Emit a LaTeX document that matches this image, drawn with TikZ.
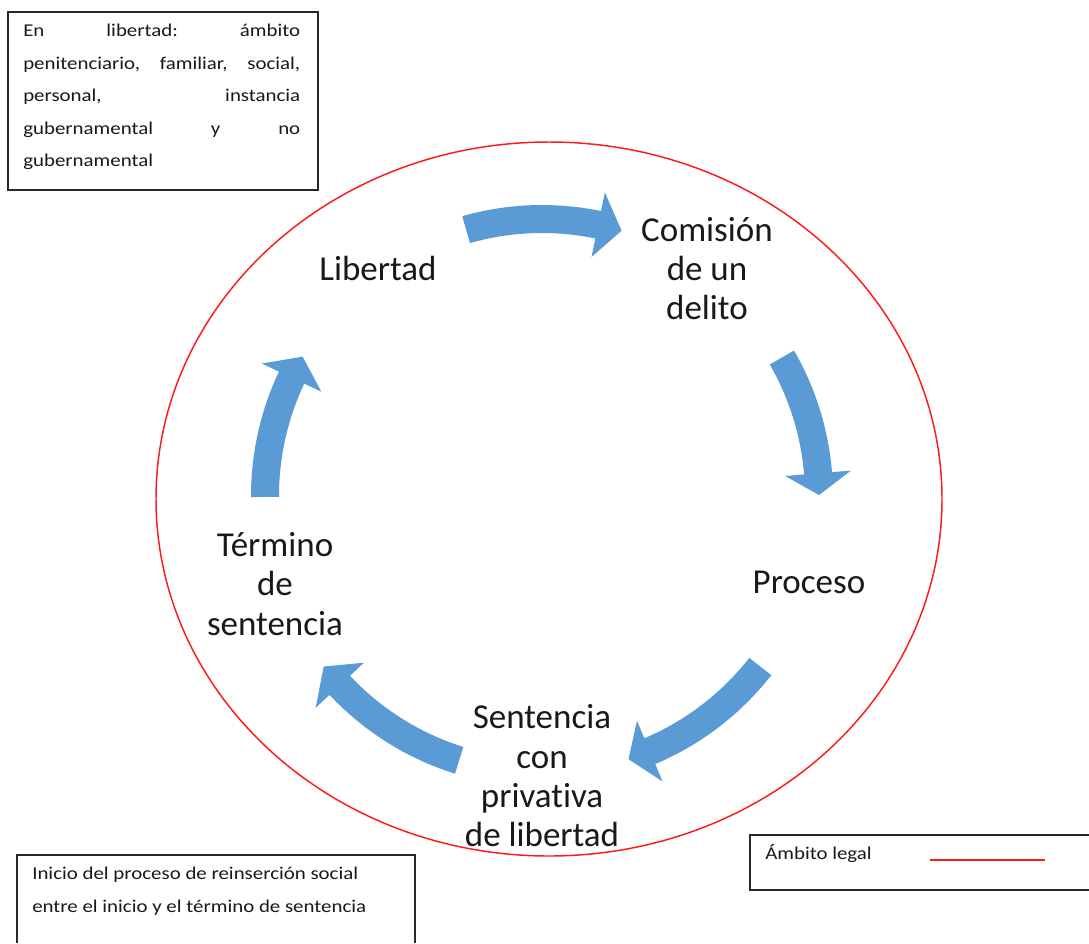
\documentclass[tikz,border=0pt]{standalone}
\usepackage{fontspec}
\setmainfont{Carlito}[Ligatures=NoCommon]
\newfontfamily\boxfont[FakeStretch=1.16,Ligatures=NoCommon]{Carlito}
\definecolor{arrowblue}{HTML}{5B9BD5}
\definecolor{legalred}{HTML}{FF1A1A}
\tikzset{
  lbl/.style={align=center, font=\fontsize{26.25}{29.5}\selectfont, text=black!90, inner sep=0pt},
  boxtxt/.style={anchor=base west, inner sep=0pt, font=\boxfont\fontsize{13.5}{16}\selectfont, text=black!90},
  frame/.style={draw=black!85, line width=1.3pt},
  arrowfill/.style={fill=arrowblue, draw=none},
  legalline/.style={draw=legalred, line width=1.1pt},
}
% curved cycle arrow: tail angle, head-base angle, tip angle (centre (542,-496), radius 277)
\newcommand{\cycarrow}[3]{%
  \fill[arrowfill] plot[domain=#1:#2, samples=30] ({542+263*cos(\x)},{-496+263*sin(\x)})
    -- ({542+244*cos(#2)},{-496+244*sin(#2)})
    -- ({542+277*cos(#3)},{-496+277*sin(#3)})
    -- ({542+310*cos(#2)},{-496+310*sin(#2)})
    -- plot[domain=#2:#1, samples=30] ({542+291*cos(\x)},{-496+291*sin(\x)})
    -- cycle;}
\begin{document}
\begin{tikzpicture}[x=0.75pt, y=0.75pt]
\useasboundingbox[fill=white] (0,0) rectangle (1089,-943);

% legal scope ellipse
\draw[legalline] (549,-499) ellipse [x radius=294.75pt, y radius=267.75pt];

% cycle arrows
\cycarrow{105.9}{78.3}{73.3}
\cycarrow{30}{4.7}{0.2}
\cycarrow{-38}{-67.1}{-71.8}
\cycarrow{252.6}{223.1}{218}
\cycarrow{180.2}{154.7}{149.8}

% cycle labels
\node[lbl] (libertad) at (378,-268) {Libertad};
\node[lbl] (comision) at (707,-268.5) {Comisión\\de un\\delito};
\node[lbl] (proceso) at (809,-582) {Proceso};
\node[lbl] (sentencia) at (542,-776) {Sentencia\\con\\privativa\\de libertad};
\node[lbl] (termino) at (275,-584) {Término\\de\\sentencia};

% top-left box
\draw[frame] (8.3,-11.7) rectangle (318.3,-190);
\node[boxtxt] (tl1) at (23,-36.7) {\hbox to 207.75pt{En\hfill libertad:\hfill ámbito}};
\node[boxtxt] (tl2) at (23,-69.2) {\hbox to 207.75pt{penitenciario,\hfill familiar,\hfill social,}};
\node[boxtxt] (tl3) at (23,-101.7) {\hbox to 207.75pt{personal,\hfill instancia}};
\node[boxtxt] (tl4) at (23,-134.2) {\hbox to 207.75pt{gubernamental\hfill y\hfill no}};
\node[boxtxt] (tl5) at (23,-166.7) {gubernamental};

% bottom-left box (cut by the page bottom)
\draw[frame] (16.7,-943) -- (16.7,-855) -- (415,-855) -- (415,-943);
\node[boxtxt] (bl1) at (32,-879) {Inicio del proceso de reinserción social};
\node[boxtxt] (bl2) at (32,-912) {entre el inicio y el término de sentencia};

% legend box (cut by the page right edge)
\draw[frame] (1089,-835) -- (750,-835) -- (750,-890) -- (1089,-890);
\node[boxtxt] (legal) at (765,-859) {Ámbito legal};
\coordinate (legA) at (930,-860);
\coordinate (legB) at (1045,-860);
\draw[legalline] (legA) -- (legB);
\end{tikzpicture}
\end{document}
